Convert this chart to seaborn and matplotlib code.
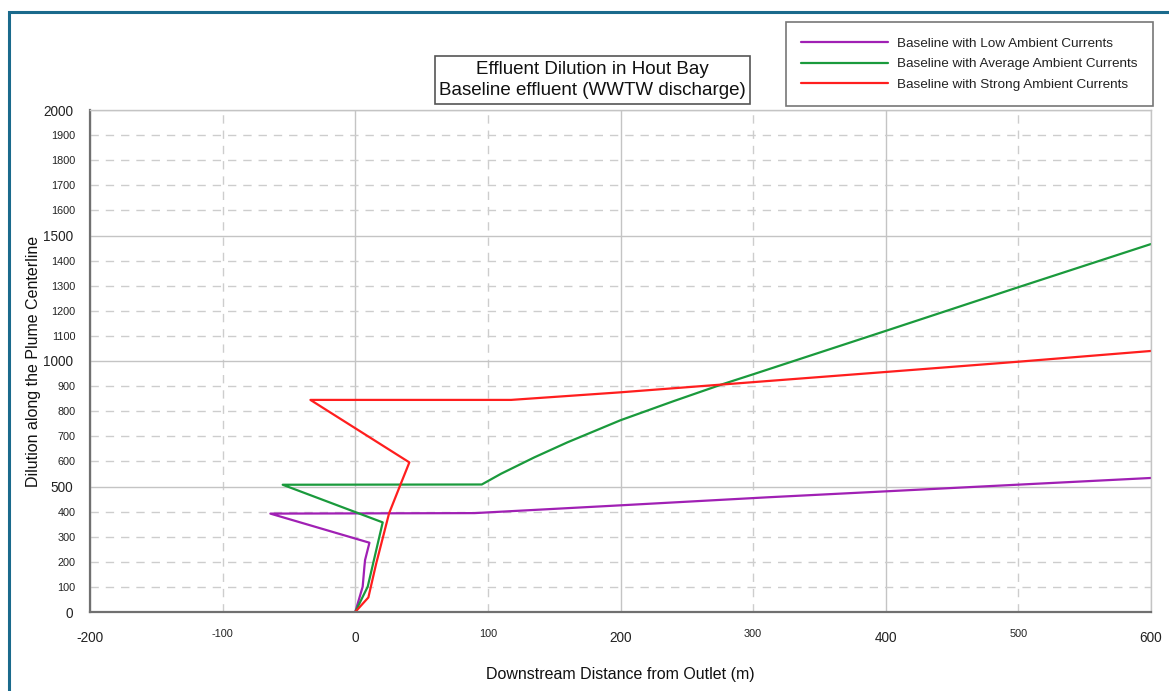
import matplotlib
matplotlib.use("Agg")
import matplotlib.pyplot as plt
from matplotlib.ticker import MultipleLocator, FixedLocator, FuncFormatter
from matplotlib.patches import Rectangle
import seaborn as sns
import pandas as pd

# Plume trajectories: downstream distance (m) vs. centerline dilution
low_x = [0, 5.6, 6.9, 7.4, 10.7, -64, 90, 200, 311, 600]
low_y = [0, 101, 180, 207, 276, 392, 394, 425, 457, 534]

avg_x = [0, 9.4, 20.7, -54.7, 95.4, 110, 135, 160, 200, 240, 276, 300, 400, 500, 600]
avg_y = [0, 101, 357, 507, 508, 551, 616, 676, 764, 840, 906, 947, 1120, 1294, 1466]

strong_x = [0, 9.9, 15.7, 25.5, 34.5, 40.8, -33.8, 117.5, 199.4, 276, 399.3, 499.6, 600]
strong_y = [0, 58, 191, 393, 513, 596, 845, 845, 875, 906, 956, 997, 1040]

series_names = ["Baseline with Low Ambient Currents",
                "Baseline with Average Ambient Currents",
                "Baseline with Strong Ambient Currents"]
colors = ["#a020b4", "#1a9a3c", "#ff1e1e"]

frames = []
for name, xs, ys in zip(series_names, [low_x, avg_x, strong_x], [low_y, avg_y, strong_y]):
    frames.append(pd.DataFrame({"distance": xs, "dilution": ys, "series": name}))
df = pd.concat(frames, ignore_index=True)

sns.set_style("white")
plt.rcParams["font.family"] = ["Liberation Sans", "DejaVu Sans"]
plt.rcParams["axes.unicode_minus"] = False

fig = plt.figure(figsize=(11.69, 6.91), dpi=100)
ax = fig.add_axes([90 / 1169, 79 / 691, 1061 / 1169, 502 / 691])

sns.lineplot(data=df, x="distance", y="dilution", hue="series", units="series",
             sort=False, estimator=None, palette=colors, hue_order=series_names,
             linewidth=1.6, ax=ax, legend=False)

ax.set_xlim(-200, 600)
ax.set_ylim(0, 2000)

# Grid: solid major lines, dashed minor lines
ax.xaxis.set_major_locator(MultipleLocator(200))
ax.xaxis.set_minor_locator(FixedLocator([-100, 100, 300, 500]))
ax.yaxis.set_major_locator(MultipleLocator(500))
ax.yaxis.set_minor_locator(FixedLocator([v for v in range(100, 2000, 100) if v % 500]))
ax.grid(which="major", color="#c4c4c4", linewidth=1.0, linestyle="-")
ax.grid(which="minor", color="#cdcdcd", linewidth=1.0, linestyle=(0, (6, 5)))
ax.set_axisbelow(True)

ax.xaxis.set_minor_formatter(FuncFormatter(lambda v, p: f"{v:.0f}"))
ax.yaxis.set_minor_formatter(FuncFormatter(lambda v, p: f"{v:.0f}"))

ax.tick_params(axis="x", which="major", direction="inout", length=8.5, width=1.2,
               color="#555555", labelsize=9.8, labelcolor="#222222", pad=9.5)
ax.tick_params(axis="x", which="minor", direction="inout", length=7, width=1.0,
               color="#bbbbbb", labelsize=7.8, labelcolor="#222222", pad=8.5)
ax.tick_params(axis="y", which="major", direction="out", length=5, width=1.2,
               color="#555555", labelsize=9.8, labelcolor="#222222", pad=7)
ax.tick_params(axis="y", which="minor", direction="out", length=3.5, width=1.0,
               color="#777777", labelsize=7.8, labelcolor="#222222", pad=7)

for side in ["left", "bottom"]:
    ax.spines[side].set_color("#707070")
    ax.spines[side].set_linewidth(1.6)
for side in ["top", "right"]:
    ax.spines[side].set_color("#c4c4c4")
    ax.spines[side].set_linewidth(1.0)

ax.set_xlabel("Downstream Distance from Outlet (m)", fontsize=11.5, color="#111111")
ax.set_ylabel("Dilution along the Plume Centerline", fontsize=11.5, color="#111111")
ax.xaxis.set_label_coords(0.5, -0.11)
ax.yaxis.set_label_coords(-0.046, 0.5)

# Title box
fig.text(592 / 1169, 1 - 80 / 691,
         "Effluent Dilution in Hout Bay\nBaseline effluent (WWTW discharge)",
         ha="center", va="center", fontsize=13.5, color="#111111", linespacing=1.38,
         bbox=dict(boxstyle="square,pad=0.22", facecolor="white",
                   edgecolor="#555555", linewidth=1.2))

# Legend
handles = [plt.Line2D([], [], color=c, linewidth=1.6) for c in colors]
leg = fig.legend(handles, series_names, loc="upper left",
                 bbox_to_anchor=(786 / 1169, 1 - 22 / 691), fontsize=9.7,
                 frameon=True, fancybox=False, handlelength=6.4, handletextpad=0.7,
                 borderpad=1.15, labelspacing=0.6, borderaxespad=0)
leg.get_frame().set_edgecolor("#555555")
leg.get_frame().set_linewidth(1.2)
for t in leg.get_texts():
    t.set_color("#222222")

# Outer frame
fig.patches.append(Rectangle((9 / 1169, -0.1), 1.2, 1 - 12 / 691 + 0.1,
                             transform=fig.transFigure, fill=False,
                             edgecolor="#1a6a8c", linewidth=2.2))

fig.savefig("out.png", dpi=100)
